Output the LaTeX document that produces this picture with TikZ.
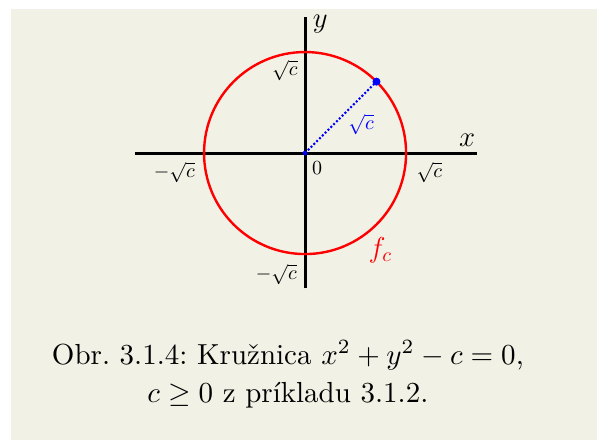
\documentclass[tikz,border=0pt]{standalone}
\usepackage{amsmath,amssymb}
\usetikzlibrary{positioning}
\definecolor{paper}{RGB}{242,241,230}

\begin{document}
\begin{tikzpicture}[x=25.25pt, y=25.25pt,
    axis/.style={black, line width=1.5pt},
    lbl/.style={font=\fontsize{10}{12}\selectfont, inner sep=0pt},
    biglbl/.style={font=\fontsize{14}{16}\selectfont, inner sep=0pt}]
  % Page and paper
  \fill[white] (-6.04,-5.68) rectangle (5.78,3.03);
  \fill[paper] (-5.82,-5.68) rectangle (5.78,2.85);
  \useasboundingbox (-6.04,-5.68) rectangle (5.78,3.03);

  % Axes
  \coordinate (O) at (0,0);
  \coordinate (xl) at (-3.37,0);
  \coordinate (xr) at (3.40,0);
  \coordinate (yb) at (0,-2.68);
  \coordinate (yt) at (0,2.70);
  \draw[axis] (xl) -- (xr);
  \draw[axis] (yb) -- (yt);
  \node[biglbl] (x) at (3.21,0.26) {$x$};
  \node[biglbl] (y) at (0.30,2.55) {$y$};

  % Circle f_c
  \draw[red, line width=1.2pt] (O) circle (2);
  \node[biglbl, red] (fc) at (1.49,-1.92) {$f_c$};

  % Radius
  \node[circle, fill=blue, inner sep=0pt, minimum size=4pt] (P) at (45:2) {};
  \draw[blue, line width=1pt, dash pattern=on 1pt off 1pt] (O) -- (P.center);
  \fill[blue] (O) circle (1.2pt);
  \node[lbl, blue] (r) at (1.11,0.57) {$\sqrt{c}$};

  % Tick labels
  \node[lbl] (zero) at (0.24,-0.30) {$0$};
  \node[lbl] (xp) at (2.46,-0.38) {$\sqrt{c}$};
  \node[lbl] (xm) at (-2.59,-0.38) {$-\sqrt{c}$};
  \node[lbl] (yp) at (-0.40,1.64) {$\sqrt{c}$};
  \node[lbl] (ym) at (-0.57,-2.40) {$-\sqrt{c}$};

  % Caption
  \node[align=center, scale=1.45, font=\fontsize{10}{13}\selectfont\frenchspacing] (cap) at (-0.34,-4.38)
    {Obr. 3.1.4: Kružnica $x^2+y^2-c=0$,\\ $c\geq 0$ z príkladu 3.1.2.};
\end{tikzpicture}
\end{document}
